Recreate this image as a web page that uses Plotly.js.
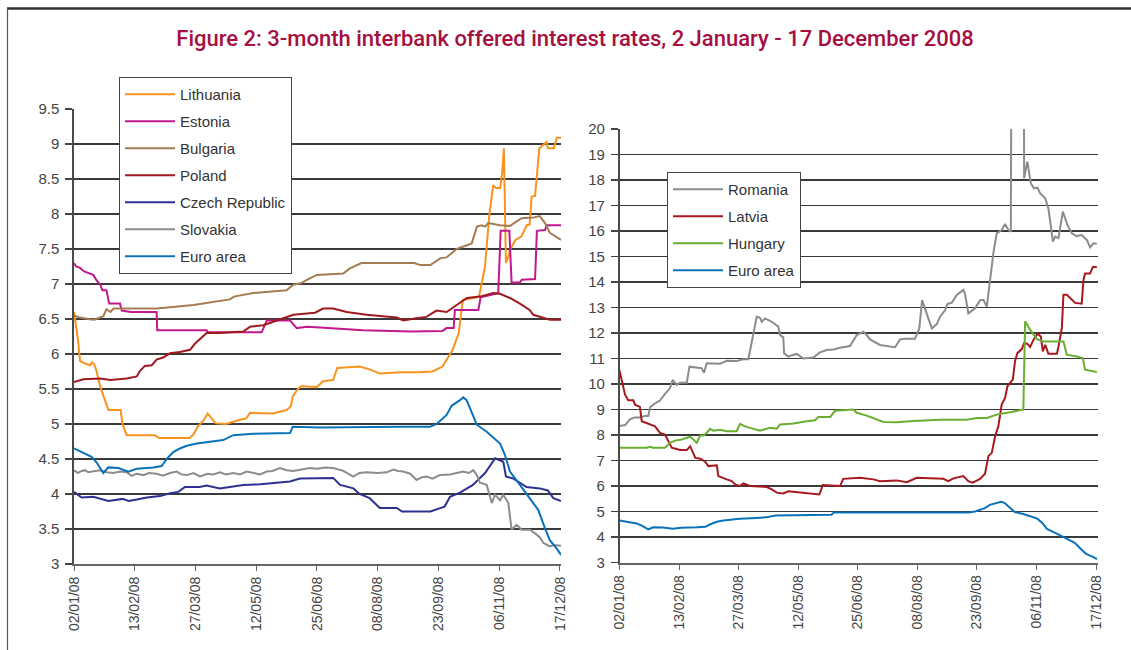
<!DOCTYPE html>
<html>
<head>
<meta charset="utf-8">
<script src="https://cdn.plot.ly/plotly-3.0.1.min.js"></script>
<style>
  html, body { margin: 0; padding: 0; background: #fff; }
  #chart { width: 1131px; height: 650px; }
</style>
</head>
<body>
<div id="chart"></div>
<script>
// ---- Axis tick labels (trading-day index → date label) ----
const tickIdx = [0, 30, 60, 90, 120, 150, 180, 210, 240];
const tickLabels = ['02/01/08', '13/02/08', '27/03/08', '12/05/08', '25/06/08', '08/08/08', '23/09/08', '06/11/08', '17/12/08'];
const leftYTicks = [3, 3.5, 4, 4.5, 5, 5.5, 6, 6.5, 7, 7.5, 8, 8.5, 9, 9.5];
const rightYTicks = [3, 4, 5, 6, 7, 8, 9, 10, 11, 12, 13, 14, 15, 16, 17, 18, 19, 20];

// ---- Left panel series (x = trading-day index, y = rate %) ----
const lithuaniaX = [0, 2, 3, 5, 8, 9, 10, 11, 13, 17, 23, 24, 26, 40, 42, 57, 59, 61, 64, 66, 68, 70, 75, 78, 82, 85, 87, 98, 105, 107, 108, 110, 112, 120, 123, 128, 130, 141, 146, 151, 161, 170, 177, 182, 187, 190, 192, 197, 200, 203, 205, 207, 208.5, 210.5, 211.5, 212.3, 213.3, 214.5, 215.3, 218, 221, 223.6, 225, 226, 227.7, 229.8, 233.4, 234, 237, 238.4, 240.5];
const lithuaniaY = [6.6, 6.2, 5.9, 5.87, 5.84, 5.88, 5.85, 5.77, 5.53, 5.2, 5.2, 5.0, 4.84, 4.84, 4.8, 4.8, 4.85, 4.96, 5.05, 5.15, 5.08, 5.01, 5.0, 5.03, 5.06, 5.08, 5.16, 5.15, 5.2, 5.25, 5.39, 5.48, 5.54, 5.53, 5.61, 5.63, 5.8, 5.82, 5.78, 5.72, 5.74, 5.74, 5.75, 5.82, 6.06, 6.3, 6.77, 6.8, 6.82, 7.25, 7.96, 8.41, 8.37, 8.37, 8.6, 8.94, 7.3, 7.39, 7.49, 7.63, 7.68, 7.84, 7.85, 8.25, 8.26, 8.94, 9.03, 8.94, 8.94, 9.09, 9.09];

const estoniaX = [0, 1, 3, 5, 9.5, 11, 13, 14, 16, 17.4, 22.7, 23.6, 28, 40.8, 41.1, 65.5, 66.3, 92.7, 95.2, 106.7, 110, 115, 121.5, 142.7, 166, 182, 184, 187.5, 188.1, 199.7, 200.8, 209.5, 210.7, 215, 216.1, 220.2, 221.1, 227.7, 228.6, 232.6, 233.4, 240.5];
const estoniaY = [7.3, 7.25, 7.23, 7.18, 7.13, 7.06, 6.99, 6.91, 6.91, 6.72, 6.72, 6.62, 6.6, 6.6, 6.34, 6.34, 6.31, 6.31, 6.48, 6.48, 6.37, 6.39, 6.38, 6.34, 6.32, 6.33, 6.37, 6.37, 6.63, 6.63, 6.81, 6.87, 7.76, 7.76, 7.02, 7.02, 7.06, 7.07, 7.76, 7.77, 7.84, 7.84];

const bulgariaX = [0, 3, 7, 10, 14.5, 16, 18, 19.5, 41, 59, 77, 79, 88.5, 105, 108.3, 112, 115, 120, 133, 136, 142, 153, 168, 171, 176, 181, 184, 189, 194, 196.4, 199, 201.3, 203, 204.6, 210.4, 215.3, 221, 227, 230, 232.6, 235, 237.5, 240.5];
const bulgariaY = [6.55, 6.52, 6.5, 6.49, 6.54, 6.64, 6.6, 6.65, 6.65, 6.7, 6.78, 6.82, 6.87, 6.91, 6.99, 7.01, 7.06, 7.13, 7.15, 7.22, 7.3, 7.3, 7.3, 7.27, 7.27, 7.37, 7.38, 7.5, 7.56, 7.58, 7.82, 7.84, 7.82, 7.87, 7.84, 7.83, 7.94, 7.95, 7.97, 7.87, 7.73, 7.69, 7.63];

const polandX = [0, 4.6, 13, 18, 26, 31, 32.6, 35, 38.4, 40.8, 44, 47.4, 52.3, 57.3, 59.8, 65.5, 72, 83.6, 87, 93.5, 98.4, 108.3, 115, 119, 123, 128, 134.7, 144.5, 159.4, 162.6, 169, 174, 179, 184, 189, 194, 200.5, 207, 210.4, 215.3, 220.2, 225, 226.8, 233.4, 235, 240.5];
const polandY = [5.6, 5.64, 5.65, 5.63, 5.65, 5.68, 5.76, 5.83, 5.84, 5.92, 5.95, 6.01, 6.03, 6.06, 6.15, 6.3, 6.3, 6.32, 6.39, 6.41, 6.46, 6.56, 6.58, 6.59, 6.65, 6.65, 6.6, 6.56, 6.52, 6.48, 6.51, 6.53, 6.62, 6.6, 6.7, 6.8, 6.82, 6.87, 6.86, 6.8, 6.72, 6.63, 6.56, 6.51, 6.49, 6.49];

const czechX = [0, 3.8, 9.5, 14.5, 17, 24, 27, 31, 36, 42.5, 47.4, 51.5, 54.8, 62, 65.5, 72, 77, 83.6, 92, 100, 106.7, 111.6, 128, 131.4, 138, 141, 146, 151, 159.4, 162, 176, 183, 185.7, 190.6, 197, 203, 208, 212, 213.3, 217, 223.5, 230, 234, 236.7, 240.5];
const czechY = [4.03, 3.95, 3.96, 3.92, 3.9, 3.93, 3.9, 3.92, 3.95, 3.97, 4.01, 4.03, 4.1, 4.1, 4.12, 4.08, 4.1, 4.13, 4.14, 4.16, 4.18, 4.22, 4.23, 4.13, 4.08, 4.0, 3.94, 3.8, 3.8, 3.75, 3.75, 3.82, 3.96, 4.02, 4.13, 4.3, 4.51, 4.46, 4.25, 4.22, 4.1, 4.08, 4.05, 3.94, 3.9];

const slovakiaX = [0, 2, 3, 5.4, 7, 9.5, 12.8, 16, 19.4, 23, 26, 28.5, 31, 34.2, 37, 40.8, 44, 47.4, 50.7, 53, 55.7, 59, 62.2, 66, 68.8, 72, 75, 78.7, 82, 85.3, 89, 91.9, 95.2, 98, 101.7, 105, 108.3, 112, 116.5, 120, 124, 128, 133, 137.9, 141, 144.5, 150, 154.4, 157.7, 160, 162.6, 166, 169.2, 172, 174.2, 177, 180.7, 185.7, 189, 192.2, 195, 197.2, 198.9, 200.5, 203.8, 206.3, 207.9, 210.4, 212, 214.5, 216.1, 218.6, 221.1, 225.2, 228, 230.1, 231.8, 235, 236.7, 240.5];
const slovakiaY = [4.34, 4.3, 4.32, 4.34, 4.31, 4.32, 4.34, 4.31, 4.3, 4.32, 4.31, 4.26, 4.29, 4.27, 4.3, 4.29, 4.26, 4.3, 4.32, 4.28, 4.27, 4.3, 4.25, 4.29, 4.28, 4.31, 4.28, 4.3, 4.28, 4.32, 4.3, 4.28, 4.32, 4.33, 4.37, 4.34, 4.33, 4.35, 4.37, 4.36, 4.38, 4.37, 4.33, 4.25, 4.3, 4.31, 4.3, 4.31, 4.35, 4.33, 4.32, 4.29, 4.2, 4.24, 4.25, 4.22, 4.27, 4.28, 4.3, 4.32, 4.3, 4.34, 4.27, 4.16, 4.13, 3.87, 3.99, 3.91, 3.99, 3.87, 3.49, 3.56, 3.49, 3.49, 3.43, 3.38, 3.3, 3.25, 3.27, 3.26];

const euroX = [0, 4.6, 8.7, 11.2, 14.5, 16.9, 21.9, 26.8, 31, 39.2, 43.3, 45.8, 49, 52.3, 55.7, 60.6, 68.8, 73.7, 78.7, 88.5, 106.7, 108, 121.5, 144.5, 161, 175.8, 179.1, 184, 186.5, 190.6, 192.2, 193.9, 196.4, 198.9, 203.8, 210.4, 212.8, 215.3, 220.2, 225.2, 229.3, 232.6, 235, 238.4, 240.5];
const euroY = [4.65, 4.59, 4.53, 4.45, 4.3, 4.38, 4.37, 4.32, 4.36, 4.38, 4.4, 4.5, 4.6, 4.65, 4.69, 4.72, 4.75, 4.77, 4.84, 4.86, 4.87, 4.96, 4.95, 4.96, 4.96, 4.96, 5.0, 5.13, 5.26, 5.34, 5.38, 5.34, 5.15, 4.99, 4.89, 4.72, 4.56, 4.32, 4.13, 3.94, 3.77, 3.51, 3.34, 3.22, 3.13];

// ---- Right panel series ----
const romaniaX = [0, 2.8, 5.3, 7.8, 10.3, 12.8, 14.5, 15.4, 17.9, 20.4, 22.9, 25.4, 26.8, 28.8, 30.5, 33.9, 35.2, 37.2, 41.4, 42.6, 43.9, 50.6, 54, 59, 62.4, 64.9, 66.6, 67.4, 69.1, 70.8, 71.6, 73.3, 76.7, 80, 80.9, 82.5, 82.9, 85, 86.8, 89.3, 92.6, 97.6, 101, 104.4, 107.7, 111.1, 116.1, 119.5, 122.8, 124.5, 126.2, 131.2, 135.4, 138.8, 141.3, 143.8, 148.8, 151, 152.4, 154.8, 157.3, 159.8, 161.5, 164, 165.2, 167.4, 169.9, 173.2, 174, 175.7, 179.1, 181.6, 183.3, 185, 186.6, 188.3, 190, 192.5, 194.2, 195.9, 197.1, 197.6, 203.4, 203.8, 205.4, 207.2, 208.8, 210.5, 211.8, 214.4, 216, 218.3, 219.4, 221.1, 223.3, 225.6, 227.8, 230.3, 232.8, 235.4, 237, 238.7, 240.4];
const romaniaY = [8.35, 8.39, 8.61, 8.69, 8.69, 8.75, 8.75, 9.09, 9.24, 9.35, 9.61, 9.83, 10.16, 9.96, 10.05, 10.05, 10.68, 10.66, 10.62, 10.44, 10.81, 10.79, 10.91, 10.9, 10.97, 10.97, 11.6, 11.99, 12.64, 12.6, 12.44, 12.57, 12.44, 12.25, 11.92, 11.83, 11.2, 11.07, 11.13, 11.18, 11.0, 11.04, 11.24, 11.33, 11.35, 11.42, 11.49, 11.92, 12.05, 11.92, 11.75, 11.53, 11.49, 11.44, 11.75, 11.77, 11.77, 12.18, 13.29, 12.77, 12.18, 12.35, 12.64, 12.9, 13.14, 13.19, 13.49, 13.69, 13.55, 12.77, 12.97, 13.29, 13.3, 13.03, 14.08, 15.13, 15.91, 16.04, 16.27, 16.04, 15.97, 30, 30, 18.07, 18.72, 17.87, 17.67, 17.7, 17.48, 17.28, 16.89, 15.58, 15.78, 15.72, 16.76, 16.24, 15.91, 15.8, 15.84, 15.65, 15.36, 15.52, 15.5];

const latviaX = [0, 1.1, 2.8, 4.4, 7, 7.8, 10.3, 11.2, 14.5, 17.9, 20.4, 22.9, 26.3, 30.5, 33.9, 35.6, 38.2, 40.8, 43.3, 44.7, 49, 49.8, 54, 56.5, 58.2, 60.7, 62.4, 65.7, 74.2, 76.7, 79.2, 82.5, 85, 90.9, 96, 100.7, 102.4, 111.1, 112.7, 121.2, 127.9, 131.2, 139.6, 144.7, 149.7, 156.4, 163.1, 165.6, 168.2, 173.2, 175.7, 177.9, 181.6, 184.1, 185.8, 187.5, 189.2, 190.8, 192.5, 194.2, 195.4, 198.1, 199.2, 200.4, 202.6, 203.8, 205.4, 206.8, 208.5, 210.5, 212.2, 213.2, 214.4, 216, 220.3, 221.1, 222.8, 223.6, 225.3, 229.5, 232.8, 233.7, 234.5, 237, 238.4, 240.4];
const latviaY = [10.53, 10.17, 9.58, 9.36, 9.36, 9.19, 9.1, 8.54, 8.44, 8.34, 8.08, 8.02, 7.5, 7.41, 7.41, 7.56, 7.1, 7.07, 6.94, 6.78, 6.81, 6.39, 6.26, 6.19, 6.06, 6.0, 6.1, 6.0, 5.96, 5.87, 5.74, 5.71, 5.79, 5.74, 5.7, 5.67, 6.04, 6.0, 6.28, 6.32, 6.26, 6.19, 6.22, 6.15, 6.32, 6.3, 6.28, 6.19, 6.3, 6.39, 6.19, 6.13, 6.28, 6.48, 7.17, 7.3, 7.95, 8.34, 9.19, 9.45, 9.91, 10.17, 10.89, 11.21, 11.37, 11.6, 11.58, 11.45, 11.73, 11.97, 11.86, 11.28, 11.54, 11.19, 11.19, 11.47, 12.2, 13.5, 13.5, 13.18, 13.15, 14.09, 14.33, 14.33, 14.59, 14.59];

const hungaryX = [0, 13.7, 15.4, 17, 22.9, 25.4, 28, 31.3, 33.9, 35.6, 37.2, 38.9, 40.6, 42.2, 43.9, 45.6, 47.3, 50.6, 54, 59, 60.7, 63.2, 65.7, 70.8, 75.8, 79.2, 80.9, 87.6, 94.3, 98.5, 100.2, 106.1, 108.6, 117.8, 119.5, 124.5, 132.9, 139.6, 148, 161.5, 174.9, 180, 185, 190, 196.7, 203.4, 204.3, 206.8, 210.2, 213.5, 223.6, 225.3, 230.3, 233.3, 234.5, 237, 240.4];
const hungaryY = [7.5, 7.5, 7.54, 7.5, 7.5, 7.69, 7.78, 7.82, 7.89, 7.93, 7.82, 7.69, 7.98, 7.98, 8.08, 8.24, 8.17, 8.21, 8.15, 8.15, 8.44, 8.34, 8.28, 8.17, 8.28, 8.25, 8.41, 8.45, 8.54, 8.58, 8.71, 8.71, 8.95, 9.0, 8.87, 8.76, 8.51, 8.5, 8.55, 8.6, 8.6, 8.67, 8.67, 8.8, 8.89, 9.0, 12.46, 12.13, 11.76, 11.67, 11.67, 11.15, 11.08, 11.02, 10.56, 10.53, 10.47];

// ---- Chart ----
const W = 1131, H = 650;
const px = v => v / W;          // horizontal pixel -> paper fraction
const py = v => 1 - v / H;      // vertical pixel -> paper fraction
const FONT = 'Liberation Sans, Arial, sans-serif';

function line(name, x, y, color, xa, ya, legend) {
  return {
    type: 'scatter', mode: 'lines', name: name, x: x, y: y,
    xaxis: xa, yaxis: ya, legend: legend, legendgroup: name + xa,
    line: { color: color, width: 2 }, hoverinfo: 'skip'
  };
}

const data = [
  line('Lithuania', lithuaniaX, lithuaniaY, '#F7931E', 'x', 'y', 'legend'),
  line('Estonia', estoniaX, estoniaY, '#C2188E', 'x', 'y', 'legend'),
  line('Bulgaria', bulgariaX, bulgariaY, '#A57C52', 'x', 'y', 'legend'),
  line('Poland', polandX, polandY, '#A0191E', 'x', 'y', 'legend'),
  line('Czech Republic', czechX, czechY, '#2E3192', 'x', 'y', 'legend'),
  line('Slovakia', slovakiaX, slovakiaY, '#8C8C8C', 'x', 'y', 'legend'),
  line('Euro area', euroX, euroY, '#0A72BA', 'x', 'y', 'legend'),
  line('Romania', romaniaX, romaniaY, '#8C8C8C', 'x2', 'y2', 'legend2'),
  line('Latvia', latviaX, latviaY, '#A6191E', 'x2', 'y2', 'legend2'),
  line('Hungary', hungaryX, hungaryY, '#6AAE2F', 'x2', 'y2', 'legend2'),
  line('Euro area', euroX, euroY, '#0A72BA', 'x2', 'y2', 'legend2')
];

const xCommon = {
  tickmode: 'array', tickvals: tickIdx, ticktext: tickLabels, tickangle: -90,
  ticks: 'outside', ticklen: 5, tickcolor: '#666', tickwidth: 1,
  showgrid: false, zeroline: false, showline: true, linecolor: '#666', linewidth: 2,
  tickfont: { family: FONT, size: 14, color: '#444' }, automargin: false, fixedrange: true
};
const yCommon = {
  tickmode: 'array', ticks: 'outside', ticklen: 7, tickcolor: '#444', tickwidth: 1.2,
  showgrid: true, gridcolor: '#3a3a3a', gridwidth: 1.2, zeroline: false,
  showline: true, linecolor: '#4a4a4a', linewidth: 1.6, ticklabelstandoff: 3,
  tickfont: { family: FONT, size: 15, color: '#444' }, automargin: false, fixedrange: true
};
const legendCommon = {
  xanchor: 'left', yanchor: 'top', bgcolor: '#fff', bordercolor: '#444', borderwidth: 1,
  font: { family: FONT, size: 15, color: '#333' }, traceorder: 'grouped',
  tracegroupgap: 4.5, itemwidth: 50, itemclick: false, itemdoubleclick: false
};

const layout = {
  width: W, height: H, autosize: false,
  margin: { l: 0, r: 0, t: 0, b: 0, pad: 0 },
  paper_bgcolor: '#fff', plot_bgcolor: 'rgba(0,0,0,0)',
  showlegend: true, hovermode: false,
  title: {
    text: 'Figure 2: 3-month interbank offered interest rates, 2 January - 17 December 2008',
    font: { family: 'Roboto, Liberation Sans, Arial, sans-serif', size: 22, weight: 500, color: '#A6103F' },
    x: px(575), xref: 'paper', xanchor: 'center', y: py(38), yref: 'paper', yanchor: 'middle'
  },
  xaxis: Object.assign({}, xCommon, { domain: [px(74), px(561)], range: [0, 240.5], anchor: 'y' }),
  yaxis: Object.assign({}, yCommon, { domain: [1 - 564 / H, 1 - 109 / H], range: [3, 9.5], anchor: 'x',
    tickvals: leftYTicks, ticktext: leftYTicks.map(String) }),
  xaxis2: Object.assign({}, xCommon, { domain: [px(619.5), px(1098)], range: [0, 241], anchor: 'y2' }),
  yaxis2: Object.assign({}, yCommon, { domain: [1 - 562.5 / H, 1 - 129 / H], range: [3, 20], anchor: 'x2',
    tickvals: rightYTicks, ticktext: rightYTicks.map(String) }),
  legend: Object.assign({}, legendCommon, { x: px(119), y: py(77) }),
  legend2: Object.assign({}, legendCommon, { x: px(667), y: py(172) }),
  shapes: [
    { type: 'line', xref: 'paper', yref: 'paper', x0: px(7), x1: 1, y0: py(8.5), y1: py(8.5),
      line: { color: '#333', width: 2.5 } },
    { type: 'line', xref: 'paper', yref: 'paper', x0: px(7.5), x1: px(7.5), y0: 0, y1: py(8.5),
      line: { color: '#555', width: 1.2 } }
  ]
};

Plotly.newPlot('chart', data, layout, { staticPlot: true, displayModeBar: false });
</script>
</body>
</html>
